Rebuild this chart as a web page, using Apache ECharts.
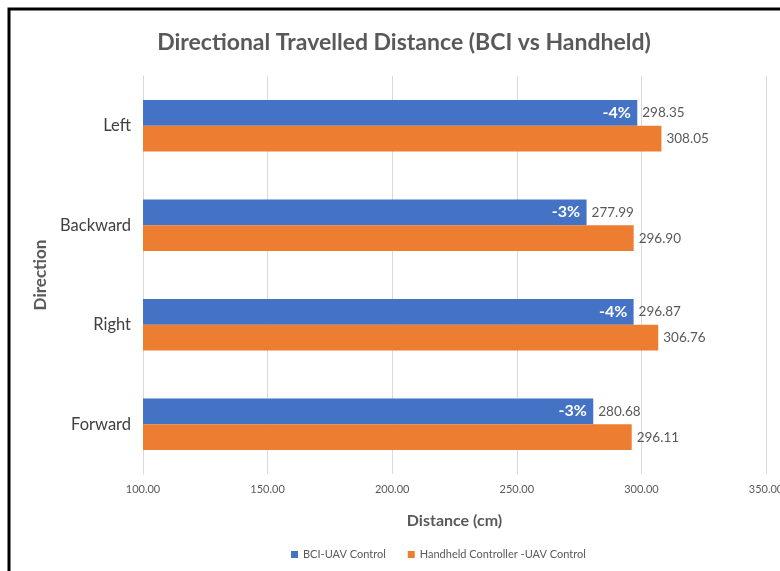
<!DOCTYPE html>
<html>
<head>
<meta charset="utf-8">
<script src="https://cdn.jsdelivr.net/npm/echarts@6/dist/echarts.min.js"></script>
<style>
  html, body { margin: 0; padding: 0; background: #fff; }
  #chart { width: 780px; height: 571px; }
</style>
</head>
<body>
<div id="chart"></div>
<script>
'use strict';

// bottom to top, as the category axis draws them
var directions = ['Forward', 'Right', 'Backward', 'Left'];
var bciValues = [280.68, 296.87, 277.99, 298.35];
var handheldValues = [296.11, 306.76, 296.90, 308.05];
var diffLabels = ['-3%', '-4%', '-3%', '-4%'];
var seriesNames = ['BCI-UAV Control', 'Handheld Controller -UAV Control'];

var font = 'Lato, "Open Sans", sans-serif';

var chart = echarts.init(document.getElementById('chart'));
var option = {
  backgroundColor: '#fff',
  animation: false,
  textStyle: {fontFamily: font},
  color: ['#4472c4', '#ed7d31'],
  title: {
    text: 'Directional Travelled Distance (BCI vs Handheld)',
    left: 399,
    textAlign: 'center',
    top: 26,
    textStyle: {fontSize: 23, fontWeight: 'bold', color: '#595959', fontFamily: font}
  },
  graphic: [{
    type: 'rect',
    shape: {x: 9, y: 9, width: 820, height: 620},
    style: {fill: 'none', stroke: '#000', lineWidth: 3},
    silent: true
  }],
  legend: {
    data: seriesNames,
    left: 286,
    top: 544,
    icon: 'rect',
    itemWidth: 7,
    itemHeight: 7,
    itemGap: 22,
    textStyle: {fontSize: 11, color: '#595959', fontFamily: font}
  },
  grid: {left: 143, right: 14, top: 76, bottom: 97, containLabel: false, outerBoundsMode: 'none'},
  xAxis: {
    type: 'value',
    min: 100,
    max: 350,
    interval: 50,
    name: 'Distance (cm)',
    nameLocation: 'middle',
    nameGap: 39,
    nameTextStyle: {fontSize: 16, fontWeight: 'bold', color: '#595959'},
    axisLine: {show: false},
    axisTick: {show: false},
    axisLabel: {
      fontSize: 11,
      color: '#595959',
      margin: 10,
      formatter: function(v){ return v.toFixed(2); }
    },
    splitLine: {lineStyle: {color: '#d9d9d9'}}
  },
  yAxis: {
    type: 'category',
    data: directions,
    name: 'Direction',
    nameLocation: 'middle',
    nameGap: 89,
    nameRotate: 90,
    nameTextStyle: {fontSize: 17, fontWeight: 'bold', color: '#595959'},
    axisLine: {show: true, lineStyle: {color: '#d9d9d9'}},
    axisTick: {show: false},
    axisLabel: {fontSize: 16.5, color: '#404040', margin: 12}
  },
  series: [
    {
      name: seriesNames[0],
      type: 'bar',
      data: bciValues,
      barGap: 0,
      barCategoryGap: '48%',
      label: {
        show: true,
        position: 'right',
        distance: 0,
        offset: [-36, 0],
        formatter: function(p){
          return '{p|' + diffLabels[p.dataIndex] + '}{v|' + p.value.toFixed(2) + '}';
        },
        rich: {
          p: {width: 31, align: 'right', color: '#fff', fontSize: 16, fontWeight: 'bold', fontFamily: font},
          v: {padding: [0, 0, 0, 10], color: '#595959', fontSize: 13.5, fontFamily: font}
        }
      }
    },
    {
      name: seriesNames[1],
      type: 'bar',
      data: handheldValues,
      barGap: 0,
      barCategoryGap: '48%',
      label: {
        show: true,
        position: 'right',
        distance: 5,
        color: '#595959',
        fontSize: 13.5,
        formatter: function(p){ return p.value.toFixed(2); }
      }
    }
  ]
};
chart.setOption(option);
</script>
</body>
</html>
